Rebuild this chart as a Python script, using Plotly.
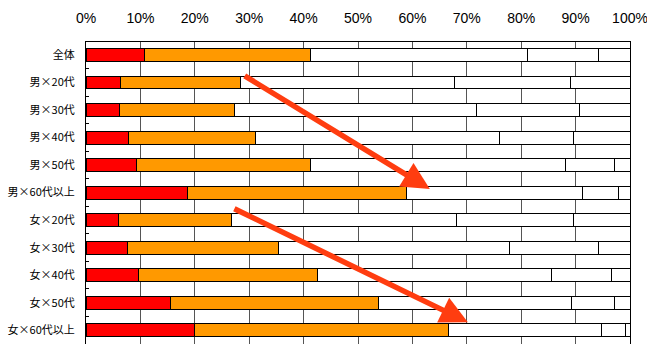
import plotly.graph_objects as go

# Respondent groups (top to bottom)
groups = ["全体", "男×20代", "男×30代", "男×40代", "男×50代", "男×60代以上",
          "女×20代", "女×30代", "女×40代", "女×50代", "女×60代以上"]

# Share of each answer (%) per group, stacked left to right
seg1 = [10.7, 6.4, 6.1, 7.8, 9.2, 18.7, 5.9, 7.7, 9.7, 15.6, 20.0]
seg2 = [30.5, 22.0, 21.2, 23.4, 32.0, 40.2, 20.9, 27.6, 32.8, 38.2, 46.6]
seg3 = [40.0, 39.4, 44.4, 44.9, 46.9, 32.3, 41.3, 42.6, 43.1, 35.4, 28.2]
seg4 = [13.1, 21.3, 19.0, 13.5, 9.0, 6.7, 21.5, 16.4, 11.0, 7.9, 4.4]
seg5 = [5.7, 10.9, 9.3, 10.4, 2.9, 2.1, 10.4, 5.7, 3.4, 2.9, 0.8]

segments = [seg1, seg2, seg3, seg4, seg5]
seg_colors = ["#FF0000", "#FF9900", "#FFFFFF", "#FFFFFF", "#FFFFFF"]

# Percentage axis ticks
pct_ticks = list(range(0, 101, 10))
pct_labels = [f"{v}%" for v in pct_ticks]

# Trend arrows: (tail x %, tail row, head x %, head row)
arrows = [
    (28.9, 0.73, 63.2, 4.87),
    (27.0, 5.56, 70.2, 9.71),
]
arrow_color = "#FF3D10"

fig = go.Figure()
for vals, col in zip(segments, seg_colors):
    fig.add_trace(go.Bar(
        x=vals, y=groups, orientation="h",
        marker=dict(color=col, line=dict(color="#000000", width=1)),
        showlegend=False, hoverinfo="skip",
    ))

for tx, ty, hx, hy in arrows:
    fig.add_annotation(
        x=hx, y=hy, ax=tx, ay=ty,
        xref="x", yref="y", axref="x", ayref="y",
        text="", showarrow=True,
        arrowhead=2, arrowsize=1.0, arrowwidth=5.5,
        arrowcolor=arrow_color,
    )

font_family = "Liberation Sans, Arial, Noto Sans CJK JP, sans-serif"

fig.update_layout(
    width=647, height=344,
    margin=dict(l=86, r=17, t=42, b=0),
    barmode="stack", bargap=0.53,
    plot_bgcolor="#FFFFFF", paper_bgcolor="#FFFFFF",
    font=dict(family=font_family, color="#000000"),
    xaxis=dict(
        side="top", range=[0, 100], tickmode="array",
        tickvals=pct_ticks, ticktext=pct_labels,
        tickfont=dict(size=14, family=font_family),
        ticklabeloverflow="allow",
        showgrid=True, gridcolor="#555555", gridwidth=1,
        showline=True, linecolor="#000000", linewidth=1, mirror=True,
        ticks="", ticklabelstandoff=12, zeroline=False, fixedrange=True,
    ),
    yaxis=dict(
        type="category", categoryorder="array", categoryarray=groups,
        range=[10.5, -0.47],
        tickson="boundaries", ticks="inside", ticklen=3, tickcolor="#000000",
        tickfont=dict(size=11, family="Noto Sans CJK JP, Liberation Sans, sans-serif"),
        showgrid=False, showline=True, linecolor="#000000", linewidth=1,
        mirror=True, ticklabelstandoff=8, fixedrange=True,
    ),
)

fig.write_html("out.html")
